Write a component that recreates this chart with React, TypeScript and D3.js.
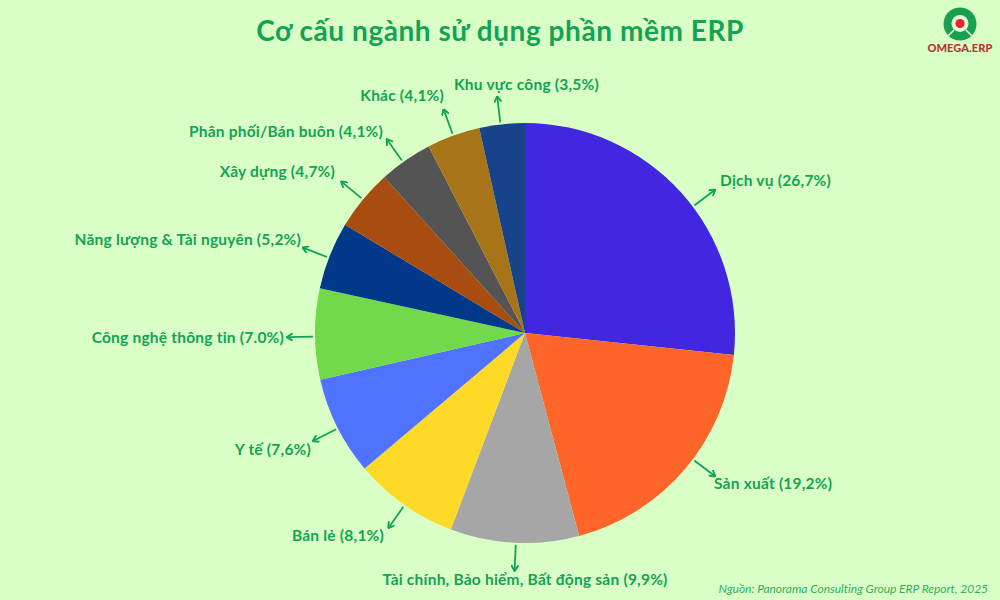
import React from "react";
import * as d3 from "d3";

const categories = ["Dịch vụ", "Sản xuất", "Tài chính, Bảo hiểm, Bất động sản", "Bán lẻ", "Y tế", "Công nghệ thông tin", "Năng lượng & Tài nguyên", "Xây dựng", "Phân phối/Bán buôn", "Khác", "Khu vực công"];
const shares = [26.7, 19.2, 9.9, 8.1, 7.6, 7.0, 5.2, 4.7, 4.1, 4.1, 3.5];
const shareLabels = ["26,7%", "19,2%", "9,9%", "8,1%", "7,6%", "7.0%", "5,2%", "4,7%", "4,1%", "4,1%", "3,5%"];
const sliceColors = ["#4127e0", "#ff6428", "#a6a6a6", "#ffd927", "#4f73ff", "#72d94d", "#00388a", "#a84c10", "#545454", "#a8741a", "#17438a"];

// layout only
const arrowAngles = [53, 127, 182.5, 215, 243, 269, 291, 309.5, 324.5, 340, 353.3];
const labelX = [720, 714, 525, 384, 311, 284, 301, 335, 383, 444, 454];
const labelY = [181, 484, 580, 536, 450, 338, 240, 172, 132, 96, 85];
const labelAnchor = ["start", "start", "middle", "end", "end", "end", "end", "end", "end", "end", "start"];

const FONT = "Lato, 'Noto Sans', sans-serif";
const GREEN = "#12a354";
const cx = 525, cy = 333, R = 210;

export default function App() {
  const pie = d3.pie<number>().sort(null).value((d) => d);
  const arc = d3.arc<d3.PieArcDatum<number>>().innerRadius(0).outerRadius(R);
  const arcs = pie(shares);
  return (
    <svg width={1000} height={600} viewBox="0 0 1000 600" style={{ position: "absolute", left: 0, top: 0, background: "#d9ffc6" }} fontFamily={FONT}>
      <defs>
        <marker id="ah" viewBox="0 0 10 10" refX="9" refY="5" markerWidth="8" markerHeight="8" markerUnits="userSpaceOnUse" orient="auto">
          <path d="M2,0.5 L9.5,5 L2,9.5" fill="none" stroke={GREEN} strokeWidth="2.4" />
        </marker>
      </defs>
      <text x={500} y={41} textAnchor="middle" fontSize={28} fontWeight={700} letterSpacing={0.55} fill={GREEN}>Cơ cấu ngành sử dụng phần mềm ERP</text>
      <g transform={`translate(${cx},${cy})`}>
        {arcs.map((a, i) => (
          <path key={i} d={arc(a) ?? ""} fill={sliceColors[i]} />
        ))}
        {arrowAngles.map((deg, i) => {
          const t = (deg * Math.PI) / 180;
          const [x1, y1] = d3.pointRadial(t, R + 2);
          const [x2, y2] = d3.pointRadial(t, R + 28);
          return <line key={i} x1={x1} y1={y1} x2={x2} y2={y2} stroke={GREEN} strokeWidth={1.8} markerEnd="url(#ah)" />;
        })}
      </g>
      {categories.map((c, i) => (
        <text key={i} x={labelX[i]} y={labelY[i]} dy="0.35em" textAnchor={labelAnchor[i] as any} fontSize={15.5} fontWeight={700} letterSpacing={0.22} fill={GREEN}>
          {`${c} (${shareLabels[i]})`}
        </text>
      ))}
      <text x={988} y={593} textAnchor="end" fontSize={12} fontStyle="italic" letterSpacing={-0.03} fill={GREEN} fillOpacity={0.9}>Nguồn: Panorama Consulting Group ERP Report, 2025</text>
      <g>
        <circle cx={960} cy={24} r={16.5} fill="#18a050" />
        <circle cx={960} cy={23.5} r={8.5} fill="#e4f8dc" />
        <circle cx={960} cy={23.5} r={4.6} fill="#e02a2a" />
        <path d="M954,30 L948,36 M966,30 L972,36" stroke="#e4f8dc" strokeWidth={1.6} />
        <text x={960} y={52} textAnchor="middle" fontSize={11} fontWeight={900} letterSpacing={0.1} fill="#b5362e">OMEGA.ERP</text>
      </g>
    </svg>
  );
}
